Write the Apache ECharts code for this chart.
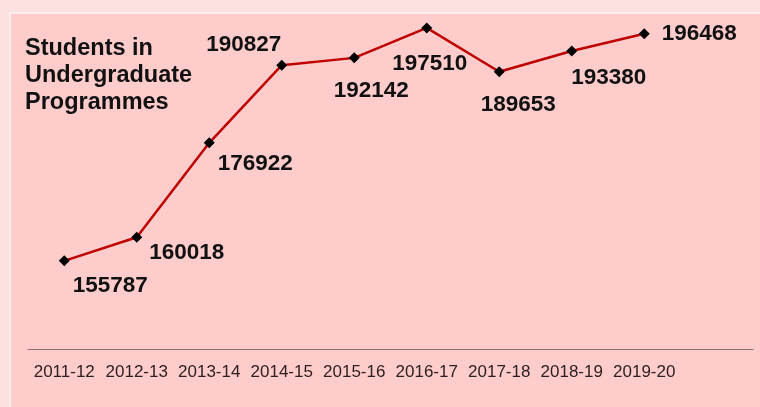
<!DOCTYPE html>
<html>
<head>
<meta charset="utf-8">
<script src="https://cdn.jsdelivr.net/npm/echarts@6/dist/echarts.min.js"></script>
<style>
  html, body { margin: 0; padding: 0; background: #fde0e0; }
  #chart { width: 760px; height: 407px; }
</style>
</head>
<body>
<div id="chart"></div>
<script>
const years = ['2011-12', '2012-13', '2013-14', '2014-15', '2015-16', '2016-17', '2017-18', '2018-19', '2019-20', '']
const students = [155787, 160018, 176922, 190827, 192142, 197510, 189653, 193380, 196468]
// where each value label sits, relative to its point
const labelOffsets = [[46, 25], [50, 16], [46, 21], [-38, -20], [17, 33], [3, 36], [19, 33], [37, 27], [55, 0]]

const chart = echarts.init(document.getElementById('chart'))

chart.setOption({
  backgroundColor: '#fde0e0',
  animation: false,
  graphic: [{
    type: 'rect',
    z: -10,
    shape: { x: 10, y: 13, width: 752, height: 396 },
    style: { fill: '#ffcccc', stroke: '#fff3f3', lineWidth: 1.5 }
  }],
  title: {
    text: 'Students in\nUndergraduate\nProgrammes',
    left: 20,
    top: 30,
    textStyle: {
      fontFamily: 'Liberation Sans',
      fontWeight: 'bold',
      fontSize: 23.5,
      lineHeight: 27,
      color: '#111'
    }
  },
  grid: { left: 28, right: 7, top: 14, bottom: 58 },
  xAxis: {
    type: 'category',
    data: years,
    boundaryGap: true,
    axisLine: { lineStyle: { color: '#8a7272', width: 1.2 } },
    axisTick: { show: false },
    axisLabel: {
      margin: 15,
      interval: 0,
      fontFamily: 'Liberation Sans',
      fontSize: 17,
      color: '#2e2020'
    }
  },
  yAxis: {
    type: 'value',
    min: 140000,
    max: 200000,
    show: false,
    splitLine: { show: false }
  },
  series: [{
    type: 'line',
    data: students.map((v, i) => ({
      value: v,
      label: { offset: labelOffsets[i] }
    })),
    symbol: 'diamond',
    symbolSize: 11,
    itemStyle: { color: '#000' },
    lineStyle: { color: '#bf0000', width: 2.5 },
    label: {
      show: true,
      position: 'inside',
      fontFamily: 'Liberation Sans',
      fontWeight: 'bold',
      fontSize: 22.5,
      color: '#111'
    }
  }]
})
</script>
</body>
</html>
